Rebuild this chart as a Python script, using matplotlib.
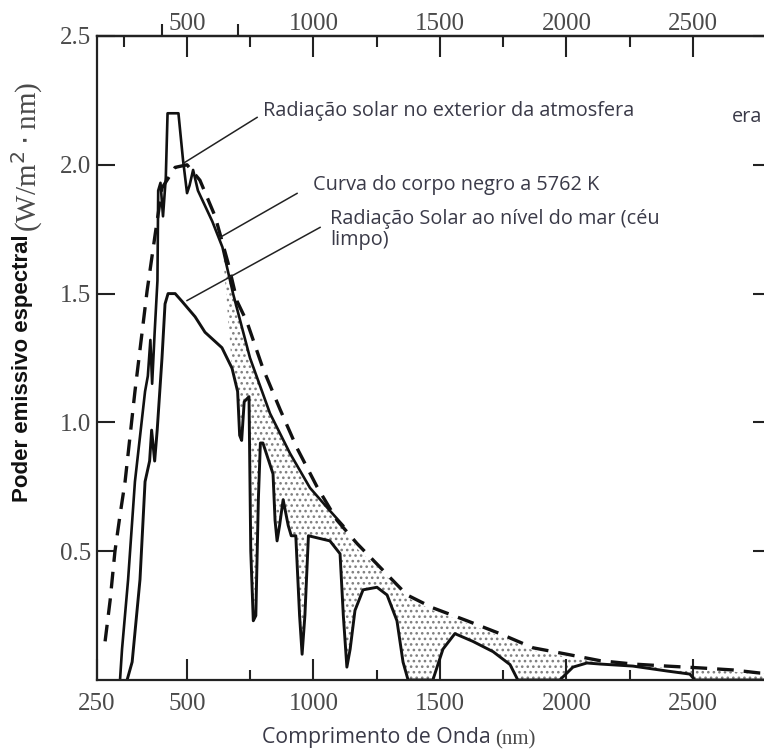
import matplotlib
matplotlib.use('Agg')
import matplotlib.pyplot as plt
import numpy as np

# curva do corpo negro (tracejada)
bb_nm = [176, 196, 215, 235, 255, 294, 342, 374, 401, 453, 500, 551, 611, 662, 698, 737,
         800, 868, 935, 1014, 1093, 1172, 1251, 1330, 1370, 1472, 1607, 1737, 1868, 2002,
         2133, 2263, 2397, 2528, 2658, 2765, 2810]
bb_val = [0.15, 0.31, 0.50, 0.64, 0.77, 1.12, 1.51, 1.73, 1.91, 1.99, 2.00, 1.94, 1.80, 1.62,
          1.47, 1.39, 1.21, 1.05, 0.90, 0.75, 0.62, 0.53, 0.45, 0.37, 0.33, 0.28, 0.23, 0.18,
          0.125, 0.10, 0.075, 0.062, 0.054, 0.047, 0.039, 0.027, 0.025]

# radiacao solar no exterior da atmosfera
ext_nm = [235, 243, 267, 294, 334, 345, 355, 362, 372, 383, 386, 395, 405, 416, 423, 466,
          484, 500, 510, 524, 543, 600, 640, 682, 749, 828, 907, 986, 1065, 1117, 1172,
          1251, 1330, 1370, 1472, 1607, 1737, 1868, 2002, 2133, 2263, 2397, 2528, 2658, 2810]
ext_val = [0.0, 0.12, 0.39, 0.77, 1.12, 1.18, 1.32, 1.15, 1.35, 1.55, 1.90, 1.93, 1.80, 1.95,
           2.20, 2.20, 2.02, 1.89, 1.92, 1.98, 1.90, 1.78, 1.68, 1.50, 1.25, 1.035, 0.88,
           0.746, 0.657, 0.60, 0.51, 0.44, 0.36, 0.32, 0.27, 0.22, 0.17, 0.115, 0.09, 0.066,
           0.055, 0.047, 0.04, 0.032, 0.022]

# radiacao solar ao nivel do mar
sea_nm = [263, 283, 314, 334, 352, 360, 372, 382, 401, 413, 425, 453, 480, 532, 571, 638,
          678, 700, 708, 716, 726, 745, 752, 762, 772, 782, 790, 800, 840, 848, 856, 866,
          880, 900, 912, 930, 945, 955, 966, 980, 1065, 1105, 1118, 1132, 1145, 1164, 1196,
          1251, 1291, 1330, 1354, 1374, 1472, 1512, 1559, 1630, 1710, 1777, 1808, 1974,
          2026, 2081, 2133, 2263, 2397, 2488, 2508, 2810]
sea_val = [0.0, 0.07, 0.39, 0.77, 0.85, 0.97, 0.85, 0.97, 1.25, 1.46, 1.50, 1.50, 1.47,
           1.41, 1.35, 1.29, 1.21, 1.12, 0.95, 0.93, 1.08, 1.10, 0.50, 0.23, 0.25, 0.70,
           0.92, 0.92, 0.80, 0.62, 0.54, 0.60, 0.70, 0.60, 0.56, 0.56, 0.25, 0.10, 0.25,
           0.56, 0.54, 0.49, 0.25, 0.05, 0.12, 0.27, 0.35, 0.36, 0.33, 0.23, 0.07, 0.0, 0.0,
           0.12, 0.18, 0.15, 0.11, 0.06, 0.0, 0.0, 0.05, 0.066, 0.062, 0.054, 0.035, 0.023,
           0.0, 0.0]

bottom_ticks = [500, 1000, 1500, 2000, 2500]
bottom_labels = ['250', '500', '1000', '1500', '2000', '2500']
minor_ticks = [250, 750, 1250, 1750, 2250]
visible_ticks = [400, 700]
y_ticks = [0.5, 1.0, 1.5, 2.0, 2.5]

bb_nm, bb_val = np.array(bb_nm), np.array(bb_val)
ext_nm, ext_val = np.array(ext_nm), np.array(ext_val)
sea_nm, sea_val = np.array(sea_nm), np.array(sea_val)

plt.rcParams['hatch.linewidth'] = 1.1
serif = 'Liberation Serif'
sans = 'Open Sans'
tick_col = '#4a4a4a'
txt_col = '#3a3a48'

fig = plt.figure(figsize=(7.64, 7.51), dpi=100)
ax = fig.add_axes([97/764, 71/751, 674/764, 644/751])
xmin, xmax = 144, 2809
ax.set_xlim(xmin, xmax)
ax.set_ylim(0, 2.5)

# area pontilhada (absorcao atmosferica)
me = ext_nm >= 640
ms = sea_nm >= 640
poly_x = np.r_[ext_nm[me], sea_nm[ms][::-1]]
poly_y = np.r_[ext_val[me], sea_val[ms][::-1]]
ax.fill(poly_x, poly_y, fill=False, hatch='...', edgecolor='0.5', linewidth=0)

ax.plot(bb_nm, bb_val, color='#111111', lw=2.4, dashes=(5, 3))
m = ext_nm <= 1117
ax.plot(ext_nm[m], ext_val[m], color='#111111', lw=1.9)
ax.plot(sea_nm, sea_val, color='#111111', lw=2.1)

# eixos
for s in ax.spines.values():
    s.set_linewidth(1.6)
    s.set_color('#222222')
ax.set_xticks([xmin] + bottom_ticks)
ax.set_xticklabels(bottom_labels)
ax.set_xticks(minor_ticks[1:], minor=True)
ax.set_yticks(y_ticks)
ax.set_yticklabels(['%.1f' % v for v in y_ticks])
ax.tick_params(axis='x', which='major', direction='in', length=15, width=1.5, pad=9,
               labelsize=18, labelcolor=tick_col, color='#222222')
ax.tick_params(axis='x', which='minor', direction='in', length=7, width=1.5, color='#222222')
ax.tick_params(axis='y', which='major', direction='in', length=13, width=1.5, pad=4,
               labelsize=18, labelcolor=tick_col, color='#222222', right=True)
for lab in ax.get_xticklabels() + ax.get_yticklabels():
    lab.set_family(serif)

top = ax.secondary_xaxis('top')
top.set_xticks(bottom_ticks)
top.set_xticks(minor_ticks, minor=True)
top.tick_params(which='major', direction='in', length=15, width=1.5, pad=1,
                labelsize=18, labelcolor=tick_col, color='#222222')
top.tick_params(which='minor', direction='in', length=8, width=1.5, color='#222222')
top.spines['top'].set_linewidth(1.6)
for lab in top.get_xticklabels():
    lab.set_family(serif)

top2 = ax.secondary_xaxis('top')
top2.set_xticks(visible_ticks)
top2.set_xticklabels([])
top2.tick_params(which='major', direction='out', length=9, width=1.5, color='#222222')
top2.spines['top'].set_visible(False)

# anotacoes
lc = '#222222'
ax.plot([777, 484], [2.184, 2.005], color=lc, lw=1.1)
ax.plot([935, 630], [1.889, 1.718], color=lc, lw=1.1)
ax.plot([1026, 500], [1.757, 1.473], color=lc, lw=1.1)
fs = 14.3
ax.text(800, 2.21, 'Radiação solar no exterior da atmosfera', fontsize=fs,
        family=sans, color=txt_col, va='center')
ax.text(998, 1.92, 'Curva do corpo negro a 5762 K', fontsize=fs,
        family=sans, color=txt_col, va='center')
ax.text(1065, 1.83, 'Radiação Solar ao nível do mar (céu\nlimpo)', fontsize=fs,
        family=sans, color=txt_col, va='top', linespacing=1.1)
fig.text(0.998, 1 - 117/751, 'era', fontsize=fs, family=sans, color=txt_col,
         va='center', ha='right')

fig.text(23/764, 1 - 368/751, 'Poder emissivo espectral', rotation=90, ha='center',
         va='center', fontsize=16, family='Liberation Sans', weight='bold', color='#111111')
fig.text(27/764, 1 - 157/751, r'(W/m$^2\cdot$nm)', rotation=90, ha='center', va='center',
         fontsize=21, family=serif, color=tick_col)
fig.text(262/764, 1 - 738/751, 'Comprimento de Onda', ha='left', va='center',
         fontsize=15.3, family=sans, color=txt_col)
fig.text(535/764, 1 - 740/751, '(nm)', ha='right', va='center', fontsize=15,
         family=serif, color=tick_col)

fig.savefig('out.png', dpi=100)
